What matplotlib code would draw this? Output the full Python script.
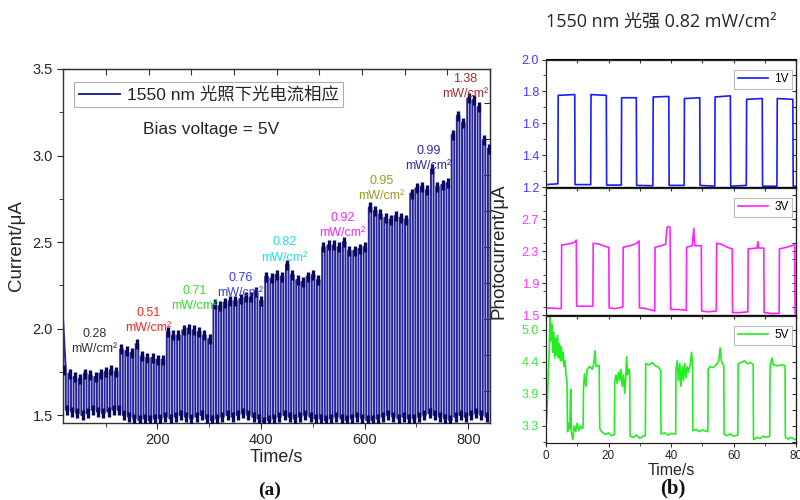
import numpy as np
import matplotlib
matplotlib.use("Agg")
import matplotlib.pyplot as plt
from matplotlib.ticker import MultipleLocator, FixedLocator

plt.rcParams['font.family'] = ['Liberation Sans', 'Noto Sans CJK SC', 'DejaVu Sans']

# ---------------- data: panel (a) ----------------
first_on = 18          # s, first light-on time
period = 10            # s, on/off period
on_time = 5            # s, light-on duration per period
start_value = 2.04     # μA at first point

seg_highs = [
    [1.76, 1.74, 1.72, 1.71, 1.74, 1.73, 1.72, 1.74, 1.75, 1.76, 1.75],
    [1.88, 1.87, 1.86, 1.91, 1.84, 1.83, 1.83, 1.82, 1.82],
    [1.98, 1.96, 1.96, 1.99, 2.00, 1.99, 1.98, 1.96, 1.94],
    [2.14, 2.13, 2.15, 2.16, 2.16, 2.17, 2.18, 2.18, 2.21, 2.16],
    [2.30, 2.29, 2.31, 2.30, 2.37, 2.31, 2.28, 2.27, 2.30, 2.31, 2.28],
    [2.47, 2.48, 2.48, 2.47, 2.50, 2.45, 2.45, 2.46, 2.47],
    [2.70, 2.68, 2.66, 2.64, 2.63, 2.65, 2.64, 2.63],
    [2.78, 2.81, 2.82, 2.80, 2.92, 2.82, 2.83, 2.84],
    [3.12, 3.23, 3.19, 3.33, 3.32, 3.28, 3.09, 3.04],
]
seg_lows = [
    [1.53, 1.52, 1.51, 1.50, 1.51, 1.53, 1.52, 1.51, 1.52, 1.53, 1.53],
    [1.50, 1.49, 1.48, 1.47, 1.48, 1.47, 1.48, 1.48, 1.49],
    [1.48, 1.49, 1.50, 1.49, 1.48, 1.49, 1.50, 1.48, 1.47],
    [1.48, 1.49, 1.50, 1.49, 1.50, 1.51, 1.50, 1.49, 1.48, 1.46],
    [1.47, 1.48, 1.49, 1.50, 1.49, 1.48, 1.49, 1.50, 1.49, 1.48, 1.48],
    [1.47, 1.48, 1.49, 1.48, 1.47, 1.48, 1.49, 1.48, 1.47],
    [1.47, 1.48, 1.49, 1.50, 1.49, 1.48, 1.49, 1.48],
    [1.48, 1.49, 1.50, 1.51, 1.50, 1.49, 1.48, 1.47],
    [1.49, 1.50, 1.49, 1.50, 1.51, 1.50, 1.49, 1.52],
]
intensity_labels = ['0.28', '0.51', '0.71', '0.76', '0.82', '0.92', '0.95', '0.99', '1.38']

# ---------------- data: panel (b) ----------------
t_1v = [0, 3.8, 3.9, 9.2, 9.3, 14.3, 14.4, 19.3, 19.4, 24.1, 24.2, 28.9, 29.0, 34.2, 34.3,
        39.3, 39.4, 44.2, 44.3, 49.2, 49.3, 54.0, 54.1, 59.0, 59.1, 64.1, 64.2, 69.2, 69.3,
        73.9, 74.0, 79.0, 79.1, 80]
v_1v = [1.215, 1.22, 1.775, 1.78, 1.215, 1.215, 1.78, 1.775, 1.212, 1.212, 1.76, 1.76, 1.21,
        1.208, 1.765, 1.768, 1.21, 1.21, 1.755, 1.76, 1.21, 1.205, 1.765, 1.772, 1.205, 1.21,
        1.75, 1.755, 1.205, 1.205, 1.755, 1.75, 1.205, 1.205]

t_3v = [0, 4.9, 5.0, 7, 9.0, 9.7, 9.8, 15.0, 15.1, 17, 19, 20.1, 20.2, 22, 24.6, 24.7, 27, 29,
        29.8, 29.9, 32, 34.8, 34.9, 37, 38.3, 38.6, 38.9, 39.7, 39.9, 42, 44.9, 45.0, 46.8, 47.3,
        47.6, 49.7, 49.8, 52, 54.5, 54.6, 56, 58, 59.6, 59.7, 62, 64.6, 64.7, 67.5, 67.8, 68.1,
        69.7, 69.8, 72, 74.6, 74.7, 77, 79.4, 79.6, 79.7, 80]
v_3v = [1.59, 1.58, 2.38, 2.39, 2.41, 2.44, 1.61, 1.61, 2.40, 2.39, 2.36, 2.35, 1.59, 1.58, 1.60,
        2.35, 2.37, 2.40, 2.43, 1.59, 1.58, 1.55, 2.35, 2.37, 2.39, 2.56, 2.61, 2.60, 1.57, 1.57,
        1.56, 2.35, 2.37, 2.59, 2.37, 2.37, 1.55, 1.54, 1.55, 2.40, 2.39, 2.35, 2.33, 1.53, 1.53,
        1.54, 2.33, 2.34, 2.42, 2.34, 2.34, 1.53, 1.52, 1.52, 2.33, 2.35, 2.38, 2.36, 1.52, 1.52]

t_5v = [0, 0.3, 0.6, 1.0, 1.3, 1.6, 1.9, 2.2, 2.5, 2.8, 3.1, 3.4, 3.7, 4.0, 4.3, 4.6, 4.9, 5.2,
        5.5, 5.8, 6.1, 6.4, 6.7, 6.9, 7.3, 7.6, 7.9, 8.1, 8.6, 9.0, 9.5, 10.0, 10.5, 11.0, 11.5,
        11.9, 12.0, 12.3, 12.8, 13.2, 14.0, 14.8, 15.3, 15.7, 16.0, 17.0, 17.2, 17.8, 19, 20, 21,
        21.9, 22.0, 22.4, 22.8, 23.2, 23.6, 24.0, 24.4, 24.8, 25.2, 25.5, 25.8, 26.1, 26.5, 26.8,
        26.9, 28, 29, 30, 31, 31.8, 31.9, 33, 34, 35, 36, 36.7, 36.8, 38, 39, 40, 41.5, 41.6,
        42.0, 42.4, 42.8, 43.2, 43.6, 44.0, 44.4, 44.8, 45.2, 45.6, 46.2, 46.6, 46.9, 47.0, 48,
        49, 50, 51.8, 51.9, 52.5, 53.5, 54.5, 55.3, 55.7, 56.1, 56.9, 57.0, 58, 59, 60, 61.4,
        61.5, 62.5, 63.5, 64.5, 65.5, 66.3, 66.4, 67.5, 68.5, 69.5, 70.5, 71.6, 71.7, 72.3, 72.7,
        74, 75.5, 76.5, 76.6, 77.5, 78.5, 79.5, 80]
v_5v = [3.30, 3.50, 4.00, 4.60, 5.25, 4.80, 5.10, 4.60, 4.95, 4.50, 4.85, 4.55, 4.90, 4.50,
        4.75, 4.45, 4.70, 4.45, 4.60, 4.35, 4.45, 4.20, 4.10, 3.20, 3.35, 3.25, 3.95, 3.20, 3.06,
        3.30, 3.20, 3.35, 3.22, 3.30, 3.25, 3.28, 3.95, 4.22, 4.00, 4.30, 4.35, 4.30, 4.40, 4.63,
        4.35, 4.37, 3.25, 3.20, 3.15, 3.18, 3.13, 3.15, 4.10, 4.20, 4.05, 4.25, 4.10, 4.30, 4.00,
        4.20, 3.87, 4.15, 4.52, 4.20, 4.30, 4.25, 3.12, 3.10, 3.14, 3.08, 3.12, 3.13, 4.40, 4.38,
        4.42, 4.36, 4.34, 4.28, 3.16, 3.18, 3.14, 3.17, 3.16, 4.30, 4.45, 4.10, 4.40, 4.00, 4.35,
        4.10, 4.40, 4.15, 4.35, 4.25, 4.40, 4.60, 4.40, 3.22, 3.24, 3.20, 3.23, 3.20, 4.30, 4.35,
        4.33, 4.38, 4.45, 4.68, 4.45, 4.36, 3.15, 3.13, 3.16, 3.12, 3.14, 4.40, 4.42, 4.45, 4.40,
        4.42, 4.38, 3.06, 3.10, 3.08, 3.12, 3.10, 3.12, 4.35, 4.50, 4.38, 4.36, 4.38, 4.36, 3.10,
        3.07, 3.10, 3.06, 3.07]

# ---------------- styles / layout ----------------
LINE = '#26269c'
BLOB = '#0a0a5a'
TXT = '#262626'
label_colors = ['#333333', '#ff2222', '#33dd33', '#3a3ae0', '#22ddee', '#ff22ff',
                '#9a9a22', '#2a2aa8', '#a52a2a']
label_pos = [(78.7, 1.925), (182.7, 2.046), (271.6, 2.173), (360.2, 2.251), (445.2, 2.454),
             (557.0, 2.595), (632.3, 2.809), (723.0, 2.983), (794.4, 3.399)]

fig = plt.figure(figsize=(8, 5), dpi=100)

# ---------------- panel (a) ----------------
ax = fig.add_axes([0.079, 0.154, 0.5335, 0.708])
highs = [h for s in seg_highs for h in s]
lows = [l for s in seg_lows for l in s]
t_pts, v_pts, t_on_mid, t_off_mid = [], [], [], []
for i, (h, l) in enumerate(zip(highs, lows)):
    t0 = first_on + i * period
    h0 = start_value if i == 0 else h
    t_pts += [t0, t0 + on_time, t0 + on_time, t0 + period]
    v_pts += [h0, h, l, l]
    t_on_mid.append(t0 + on_time / 2)
    t_off_mid.append(t0 + on_time + on_time / 2)
ax.plot(t_pts, v_pts, color=LINE, lw=1.4, label='1550 nm 光照下光电流相应', zorder=2)
ax.plot(t_on_mid, highs, ls='none', marker='|', ms=7, mew=2.4, color=BLOB, zorder=3)
ax.plot(t_off_mid, lows, ls='none', marker='|', ms=7, mew=2.4, color=BLOB, zorder=3)

ax.set_xlim(18, 842)
ax.set_ylim(1.454, 3.5)
ax.xaxis.set_major_locator(FixedLocator([200, 400, 600, 800]))
ax.xaxis.set_minor_locator(MultipleLocator(100))
ax.yaxis.set_major_locator(MultipleLocator(0.5))
ax.yaxis.set_minor_locator(MultipleLocator(0.25))
ax.yaxis.set_major_formatter(matplotlib.ticker.FormatStrFormatter('%.1f'))
ax.tick_params(which='both', direction='out', colors=TXT, labelsize=10.5)
ax.tick_params(which='major', length=4)
ax.tick_params(which='minor', length=3)
for s in ax.spines.values():
    s.set_color('#333333')
    s.set_linewidth(1.0)
ax.set_xlabel('Time/s', fontsize=13, color=TXT, labelpad=1)
ax.set_ylabel('Current/μA', fontsize=13.5, color=TXT, labelpad=5)

secx = ax.secondary_xaxis('top')
secx.set_xticks(np.linspace(18, 842, 11))
secx.tick_params(direction='in', length=4, labeltop=False, colors='#333333')
secy = ax.secondary_yaxis('right')
y0, y1 = 1.454, 3.5
secy.set_yticks([y0 + (0.904 - k * 0.1017) * (y1 - y0) for k in range(9)])
secy.tick_params(direction='in', length=4, labelright=False, colors='#333333')

leg = ax.legend(loc='upper left', bbox_to_anchor=(0.026, 0.962), borderaxespad=0,
                fontsize=12.5, frameon=True, fancybox=False, handlelength=2.4,
                handletextpad=0.4, borderpad=0.25)
leg.get_frame().set_edgecolor('#999999')
leg.get_frame().set_linewidth(0.8)
for txt in leg.get_texts():
    txt.set_color(TXT)
ax.text(0.187, 0.828, 'Bias voltage = 5V', transform=ax.transAxes, fontsize=12.5,
        color=TXT, va='center', ha='left')

for lab, c, (x, y) in zip(intensity_labels, label_colors, label_pos):
    ax.text(x, y, lab + '\nmW/cm²', color=c, fontsize=9, ha='center', va='center',
            linespacing=1.35, zorder=4)

fig.text(0.3375, 0.02, '(a)', family='Liberation Serif', weight='bold', fontsize=14,
         ha='center', va='center', color='#111111')

# ---------------- panel (b) ----------------
left, width = 0.6825, 0.3125
specs = [
    (0.626, t_1v, v_1v, '#1a1aff', '#3b3bff', '1V', (1.2, 2.0), [1.2, 1.4, 1.6, 1.8, 2.0],
     ['1.2', '1.4', '1.6', '1.8', '2.0'], 0.1),
    (0.370, t_3v, v_3v, '#ff22ff', '#ff33ff', '3V', (1.5, 3.1), [1.5, 1.9, 2.3, 2.7],
     ['1.5', '1.9', '2.3', '2.7'], 0.2),
    (0.114, t_5v, v_5v, '#22ee22', '#33ee33', '5V', (3.0, 5.25), [3.3, 3.867, 4.433, 5.0],
     ['3.3', '3.9', '4.4', '5.0'], None),
]
axes_b = []
for bottom, tt, vv, lc, tc, lab, ylim, yt, ytl, ymin in specs:
    a = fig.add_axes([left, bottom, width, 0.255])
    a.plot(tt, vv, color=lc, lw=1.2, label=lab)
    a.set_xlim(0, 80)
    a.set_ylim(*ylim)
    a.set_yticks(yt)
    a.set_yticklabels(ytl)
    if ymin is not None:
        a.yaxis.set_minor_locator(MultipleLocator(ymin))
    else:
        a.yaxis.set_minor_locator(FixedLocator([3.0167, 3.583, 4.15, 4.717]))
    a.xaxis.set_major_locator(MultipleLocator(20))
    a.xaxis.set_minor_locator(MultipleLocator(10))
    a.tick_params(axis='y', which='both', direction='out', labelsize=9, labelcolor=tc,
                  color='#333333', pad=2)
    a.tick_params(axis='x', which='both', direction='out', labelsize=8.5, labelcolor=TXT,
                  color='#333333', pad=2)
    a.tick_params(which='major', length=3)
    a.tick_params(which='minor', length=2)
    for s in a.spines.values():
        s.set_color('#222222')
        s.set_linewidth(0.9)
    sx = a.secondary_xaxis('top')
    sx.set_xticks(np.arange(0, 81, 10))
    sx.tick_params(direction='in', length=3, labeltop=False, colors='#333333')
    sy = a.secondary_yaxis('right')
    sy.set_yticks(list(a.get_yticks()) + list(a.yaxis.get_minorticklocs()))
    sy.tick_params(direction='in', length=3, labelright=False, colors='#333333')
    lg = a.legend(loc='upper right', bbox_to_anchor=(0.985, 0.92), fontsize=8.5,
                  frameon=True, fancybox=False, handlelength=2.6, handletextpad=0.5,
                  borderpad=0.3, borderaxespad=0)
    lg.get_frame().set_edgecolor('#aaaaaa')
    lg.get_frame().set_linewidth(0.8)
    if lab != '5V':
        a.tick_params(axis='x', labelbottom=False)
    axes_b.append(a)

axes_b[-1].set_xlabel('Time/s', fontsize=11.5, color=TXT, labelpad=1)
fig.text(0.624, 0.498, 'Photocurrent/μA', rotation=90, fontsize=13.5, color=TXT,
         ha='center', va='center')
fig.text(0.827, 0.956, '1550 nm 光强 0.82 mW/cm²', fontsize=13, color=TXT,
         family=['Open Sans', 'Noto Sans CJK SC'], ha='center', va='center')
fig.text(0.841, 0.024, '(b)', family='Liberation Serif', weight='bold', fontsize=15,
         ha='center', va='center', color='#111111')

fig.savefig('out.png', dpi=100)
